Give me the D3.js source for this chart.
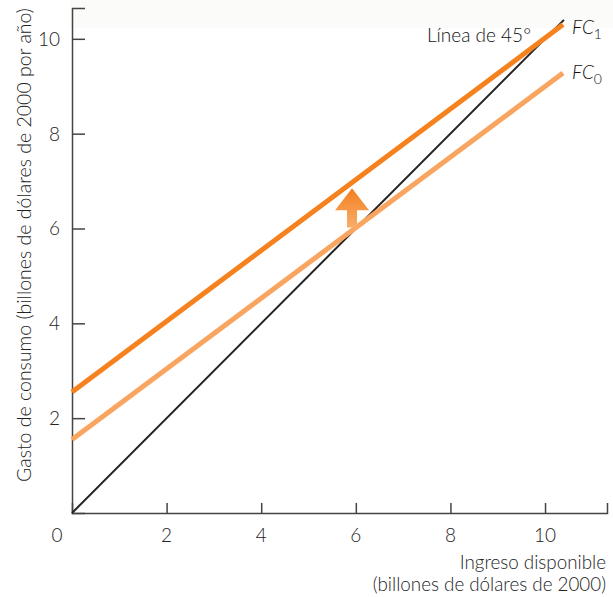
<!DOCTYPE html>
<html><head><meta charset="utf-8">
<script src="https://cdn.jsdelivr.net/npm/d3@7"></script>
<style>
html,body{margin:0;padding:0;background:#fff;}
svg{display:block;font-family:Lato, "Open Sans", sans-serif;font-weight:300;}
</style></head>
<body><div id="chart"></div>
<script>
// ---- data ----
const xTicks = [2, 4, 6, 8, 10];
const yTicks = [2, 4, 6, 8, 10];
const incomeFC = [0, 10.38];          // disposable income at line ends
const consumptionFC0 = [1.55, 9.28];  // FC0
const consumptionFC1 = [2.55, 10.30]; // FC1
const line45 = [0, 10.4];
const arrowX = 5.92, arrowBaseY = 6.02, arrowTipY = 6.85;
const xTitle = ["Ingreso disponible", "(billones de dólares de 2000)"];
const yTitle = "Gasto de consumo (billones de dólares de 2000 por año)";

const W = 613, H = 597;
const svg = d3.select("#chart").append("svg").attr("width", W).attr("height", H);

const x = d3.scaleLinear().domain([0, 11.31]).range([72, 607]);
const y = d3.scaleLinear().domain([0, 10.65]).range([513, 8]);

// faint top band
svg.append("rect").attr("x", 70).attr("y", 0).attr("width", W - 70).attr("height", 28).attr("fill", "#fbfbfa");

const defs = svg.append("defs");
const grad = defs.append("linearGradient").attr("id", "ag").attr("x1", 0).attr("y1", 0).attr("x2", 0).attr("y2", 1);
grad.append("stop").attr("offset", "0%").attr("stop-color", "#f37f1d");
grad.append("stop").attr("offset", "100%").attr("stop-color", "#f9ad6a");

// axes
const xAxis = d3.axisBottom(x).tickValues(xTicks).tickSize(-10).tickFormat("");
const yAxis = d3.axisLeft(y).tickValues(yTicks).tickSize(-13).tickFormat("");
const gx = svg.append("g").attr("transform", `translate(0,${y(0)})`).call(xAxis);
const gy = svg.append("g").attr("transform", `translate(${x(0)},0)`).call(yAxis);
[gx, gy].forEach(g => {
  g.select(".domain").attr("stroke", "#444").attr("stroke-width", 1.5);
  g.selectAll(".tick line").attr("stroke", "#444").attr("stroke-width", 1.5);
});

// tick labels
svg.append("g").selectAll("text").data(xTicks).join("text")
  .attr("x", d => x(d)).attr("y", 542).attr("text-anchor", "middle")
  .attr("font-size", 19).attr("fill", "#222").text(d => d);
svg.append("g").selectAll("text").data(yTicks).join("text")
  .attr("x", 60).attr("y", d => y(d) + 7).attr("text-anchor", "end")
  .attr("font-size", 19).attr("fill", "#222").text(d => d);
svg.append("text").attr("x", 57).attr("y", 542).attr("text-anchor", "middle")
  .attr("font-size", 19).attr("fill", "#222").text("0");

// axis titles
svg.append("g").selectAll("text").data(xTitle).join("text")
  .attr("x", 606).attr("y", (d, i) => 569 + i * 22).attr("text-anchor", "end")
  .attr("font-size", 18.8).attr("fill", "#222").text(d => d);
svg.append("text").attr("transform", "translate(31,482) rotate(-90)")
  .attr("text-anchor", "start").attr("font-size", 19.5).attr("fill", "#222").text(yTitle);

// lines
const line = d3.line().x(d => x(d[0])).y(d => y(d[1]));
svg.append("path").datum(line45.map(v => [v, v])).attr("d", line)
  .attr("stroke", "#222").attr("stroke-width", 2).attr("fill", "none");
svg.append("path").datum(incomeFC.map((v, i) => [v, consumptionFC0[i]])).attr("d", line)
  .attr("stroke", "#f9a560").attr("stroke-width", 5).attr("fill", "none");
svg.append("path").datum(incomeFC.map((v, i) => [v, consumptionFC1[i]])).attr("d", line)
  .attr("stroke", "#f5821f").attr("stroke-width", 5).attr("fill", "none");

// arrow
const ax = x(arrowX), ab = y(arrowBaseY), at = y(arrowTipY);
const wingY = at + 22;
svg.append("path")
  .attr("d", `M${ax},${at} L${ax + 17},${wingY} L${ax + 5},${wingY} L${ax + 5},${ab} L${ax - 5},${ab} L${ax - 5},${wingY} L${ax - 17},${wingY} Z`)
  .attr("fill", "url(#ag)");

// labels
svg.append("text").attr("x", 427).attr("y", 42).attr("font-size", 19).attr("fill", "#111").text("Línea de 45°");
function fcLabel(yy, sub) {
  const t = svg.append("text").attr("x", 572).attr("y", yy).attr("font-size", 19).attr("fill", "#111");
  t.append("tspan").attr("font-style", "italic").text("FC");
  t.append("tspan").attr("font-size", 14).attr("dy", 5).text(sub);
}
fcLabel(34, "1");
fcLabel(79, "0");
</script></body></html>
